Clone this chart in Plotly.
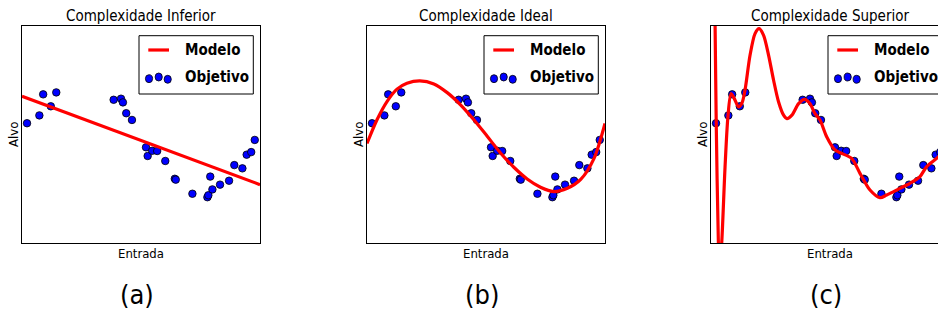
import plotly.graph_objects as go

W, H = 938, 316

# ---------------- data (unit axes 0..1) ----------------
obj_x = [0.021, 0.073, 0.089, 0.121, 0.144, 0.385, 0.416, 0.424, 0.438, 0.462,
         0.521, 0.528, 0.547, 0.568, 0.602, 0.642, 0.646, 0.716, 0.779, 0.783,
         0.791, 0.800, 0.832, 0.870, 0.892, 0.926, 0.944, 0.963, 0.978]
obj_y = [0.552, 0.588, 0.685, 0.630, 0.694, 0.660, 0.665, 0.648, 0.598, 0.567,
         0.441, 0.401, 0.425, 0.424, 0.378, 0.296, 0.292, 0.227, 0.211, 0.220,
         0.306, 0.247, 0.269, 0.287, 0.359, 0.344, 0.407, 0.419, 0.475]

lin_x = [0.0, 1.0]
lin_y = [0.676, 0.269]

ideal_x = [0.0, 0.042, 0.084, 0.126, 0.168, 0.222, 0.281, 0.337, 0.393, 0.449,
           0.505, 0.561, 0.617, 0.673, 0.729, 0.785, 0.842, 0.898, 0.954, 1.0]
ideal_y = [0.459, 0.568, 0.652, 0.709, 0.736, 0.747, 0.733, 0.693, 0.637, 0.568,
           0.492, 0.415, 0.349, 0.295, 0.257, 0.237, 0.252, 0.293, 0.390, 0.551]

over_x = [0.0, 0.013, 0.017, 0.022, 0.031, 0.036, 0.045, 0.059, 0.071, 0.084,
          0.096, 0.116, 0.130, 0.143, 0.164, 0.185, 0.202, 0.221, 0.242, 0.263,
          0.284, 0.305, 0.319, 0.340, 0.368, 0.393, 0.416, 0.437, 0.458, 0.486,
          0.521, 0.549, 0.591, 0.626, 0.668, 0.710, 0.738, 0.794, 0.836, 0.878,
          0.906, 0.948, 1.0]
over_y = [2.5, 1.33, 1.02, 0.55, 0.0, -0.12, 0.0, 0.35, 0.58, 0.688,
          0.670, 0.627, 0.645, 0.705, 0.865, 0.965, 0.988, 0.957, 0.865, 0.750,
          0.650, 0.589, 0.573, 0.589, 0.642, 0.662, 0.642, 0.596, 0.567, 0.490,
          0.429, 0.413, 0.390, 0.321, 0.244, 0.209, 0.221, 0.252, 0.275, 0.306,
          0.352, 0.390, 0.440]

titles = ["Complexidade Inferior", "Complexidade Ideal", "Complexidade Superior"]
panel_labels = ["(a)", "(b)", "(c)"]
legend_labels = ["Modelo", "Objetivo"]
x_label = "Entrada"
y_label = "Alvo"

# ---------------- layout geometry (pixels) ----------------
AX_LEFT = [22, 367, 711]
AX_W = 238
AX_TOP, AX_BOT = 26, 243

FONT = "DejaVu Sans Condensed, DejaVu Sans, sans-serif"
RED = "#ff0000"
BLUE = "#0000ff"


def px(x):
    return x / W


def py(y):
    return 1 - y / H


fig = go.Figure()
shapes = []
annotations = []

curves = [(lin_x, lin_y), (ideal_x, ideal_y), (over_x, over_y)]

for i in range(3):
    L = AX_LEFT[i]
    R = min(L + AX_W, W)
    xa = "x" if i == 0 else f"x{i+1}"
    ya = "y" if i == 0 else f"y{i+1}"
    xname = "xaxis" if i == 0 else f"xaxis{i+1}"
    yname = "yaxis" if i == 0 else f"yaxis{i+1}"
    xr_max = (R - L) / AX_W

    fig.add_trace(go.Scatter(
        x=obj_x, y=obj_y, mode="markers", xaxis=xa, yaxis=ya,
        marker=dict(size=7.5, color=BLUE, line=dict(color="black", width=0.8)),
        showlegend=False, hoverinfo="skip"))
    cx, cy = curves[i]
    fig.add_trace(go.Scatter(
        x=cx, y=cy, mode="lines", xaxis=xa, yaxis=ya,
        line=dict(color=RED, width=3.2, shape="spline", smoothing=0.8),
        showlegend=False, hoverinfo="skip"))

    fig.layout[xname] = dict(domain=[px(L), px(R)], range=[0, xr_max],
                             showline=True, mirror=True, linecolor="black", linewidth=1,
                             showticklabels=False, ticks="", showgrid=False, zeroline=False,
                             anchor=ya, fixedrange=True)
    fig.layout[yname] = dict(domain=[py(AX_BOT), py(AX_TOP)], range=[0, 1],
                             showline=True, mirror=(i < 2), linecolor="black", linewidth=1,
                             showticklabels=False, ticks="", showgrid=False, zeroline=False,
                             anchor=xa, fixedrange=True)

    cxp = L + AX_W / 2
    annotations.append(dict(text=titles[i], x=px(cxp), y=py(16), xref="paper", yref="paper",
                            showarrow=False, xanchor="center", yanchor="middle",
                            font=dict(family=FONT, size=15, color="black")))
    annotations.append(dict(text=x_label, x=px(cxp), y=py(254), xref="paper", yref="paper",
                            showarrow=False, xanchor="center", yanchor="middle",
                            font=dict(family=FONT, size=13, color="black")))
    annotations.append(dict(text=y_label, x=px(L - 9), y=py(135), xref="paper", yref="paper",
                            showarrow=False, xanchor="center", yanchor="middle", textangle=-90,
                            font=dict(family=FONT, size=13, color="black")))
    annotations.append(dict(text=panel_labels[i], x=px(cxp - 4), y=py(294), xref="paper",
                            yref="paper", showarrow=False, xanchor="center", yanchor="middle",
                            font=dict(family=FONT, size=27, color="black")))

    # legend box
    shapes.append(dict(type="rect", xref="paper", yref="paper",
                       x0=px(L + 117), x1=px(L + 231.3), y0=py(94), y1=py(35.7),
                       line=dict(color="black", width=1), fillcolor="white", layer="above"))
    shapes.append(dict(type="line", xref="paper", yref="paper",
                       x0=px(L + 126.3), x1=px(L + 147), y0=py(50), y1=py(50),
                       line=dict(color=RED, width=3.2), layer="above"))
    for dx, dy in [(127, 78.7), (136.7, 77), (145.7, 79.3)]:
        shapes.append(dict(type="circle", xref="paper", yref="paper",
                           x0=px(L + dx - 3.6), x1=px(L + dx + 3.6),
                           y0=py(dy + 4), y1=py(dy - 4),
                           fillcolor=BLUE, line=dict(color="black", width=0.8), layer="above"))
    annotations.append(dict(text="<b>%s</b>" % legend_labels[0], x=px(L + 161), y=py(50),
                            xref="paper", yref="paper", showarrow=False,
                            xanchor="left", yanchor="middle",
                            font=dict(family=FONT, size=15, color="black")))
    annotations.append(dict(text="<b>%s</b>" % legend_labels[1], x=px(L + 161), y=py(77.5),
                            xref="paper", yref="paper", showarrow=False,
                            xanchor="left", yanchor="middle",
                            font=dict(family=FONT, size=15, color="black")))

fig.update_layout(width=W, height=H, margin=dict(l=0, r=0, t=0, b=0),
                  paper_bgcolor="white", plot_bgcolor="white",
                  shapes=shapes, annotations=annotations, showlegend=False)

fig.write_html("out.html",
               config={"displayModeBar": False, "staticPlot": True},
               post_script="document.body.style.margin='0px';"
                           "document.body.style.overflow='hidden';")
